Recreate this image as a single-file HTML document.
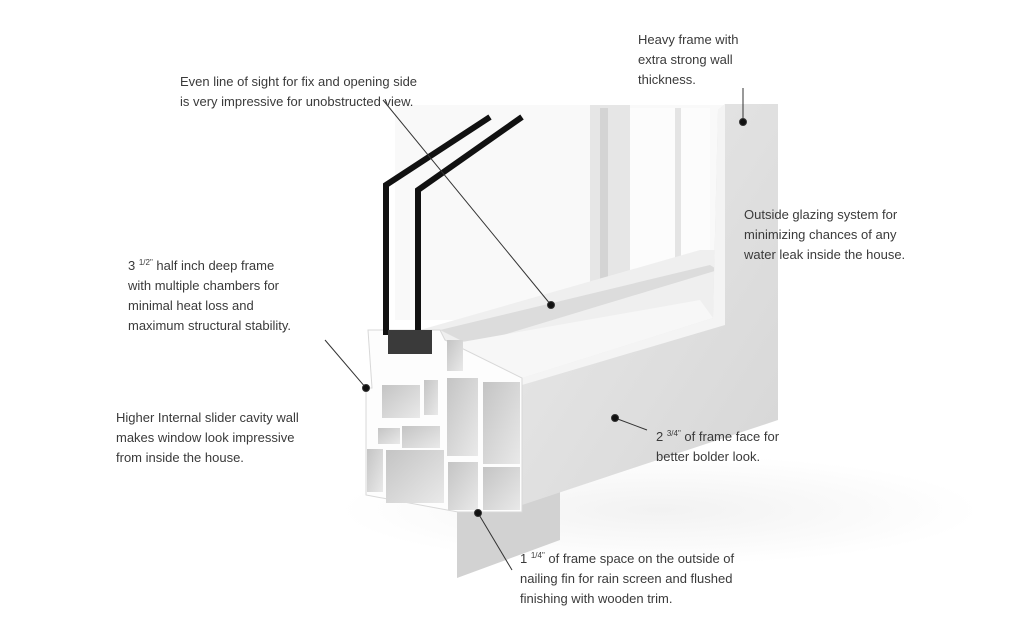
<!DOCTYPE html>
<html><head><meta charset="utf-8"><style>
html,body{margin:0;padding:0;background:#fff;}
body{width:1024px;height:640px;position:relative;overflow:hidden;font-family:"Liberation Sans",sans-serif;}
.t{position:absolute;font-size:13px;line-height:20px;color:#3a3a3a;white-space:nowrap;}
sup{font-size:8px;vertical-align:5px;}
</style></head><body>
<svg width="1024" height="640" style="position:absolute;left:0;top:0">
<defs>
<linearGradient id="face" x1="0" y1="0" x2="1" y2="1"><stop offset="0" stop-color="#eaeaea"/><stop offset="1" stop-color="#d6d6d6"/></linearGradient>
<linearGradient id="cav" x1="0" y1="0" x2="1" y2="1"><stop offset="0" stop-color="#c4c4c4"/><stop offset="1" stop-color="#e9e9e9"/></linearGradient>
<radialGradient id="sh" cx="0.5" cy="0.5" r="0.5"><stop offset="0" stop-color="#f2f2f2"/><stop offset="1" stop-color="#fff"/></radialGradient>
</defs>
<ellipse cx="660" cy="510" rx="320" ry="55" fill="url(#sh)"/>
<polygon points="457,508 560,485 560,540 457,578" fill="#d2d2d2"/>
<rect x="395" y="105" width="335" height="215" fill="#f9f9f9"/>
<rect x="590" y="105" width="40" height="190" fill="#e6e6e6"/>
<rect x="600" y="108" width="8" height="185" fill="#d4d4d4"/>
<rect x="630" y="108" width="80" height="210" fill="#fcfcfc"/>
<rect x="675" y="108" width="6" height="200" fill="#e4e4e4"/>
<polygon points="420,330 700,250 720,250 720,320 520,380 440,380" fill="#efefef"/>
<polygon points="440,330 710,265 718,270 470,345" fill="#dcdcdc"/>
<polygon points="725,104 778,104 778,420 522,505 522,378 713,318 718,110" fill="url(#face)"/>
<polygon points="713,318 718,110 725,104 725,325 522,385 522,378" fill="#f4f4f4"/>
<polygon points="445,345 700,300 713,318 522,378 470,372" fill="#f7f7f7"/>
<polygon points="368,330 440,330 445,340 522,378 522,512 458,512 366,495 366,388 372,388" fill="#fdfdfd" stroke="#d8d8d8" stroke-width="1"/>
<g fill="url(#cav)">
<rect x="367" y="449" width="16" height="43"/>
<rect x="386" y="450" width="58" height="53"/>
<rect x="448" y="462" width="30" height="48"/>
<rect x="483" y="467" width="37" height="43"/>
<rect x="447" y="378" width="31" height="78"/>
<rect x="483" y="382" width="37" height="82"/>
<rect x="447" y="340" width="16" height="31"/>
<rect x="382" y="385" width="38" height="33"/>
<rect x="378" y="428" width="22" height="16"/>
<rect x="402" y="426" width="38" height="22"/>
<rect x="424" y="380" width="14" height="35"/>
</g>
<polyline points="386,335 386,185 490,117" fill="none" stroke="#111" stroke-width="6"/>
<polyline points="418,340 418,190 522,117" fill="none" stroke="#111" stroke-width="6"/>
<rect x="388" y="330" width="44" height="24" fill="#3a3a3a"/>
<g stroke="#333" stroke-width="1" fill="#111">
<line x1="383" y1="100" x2="551" y2="305"/><circle cx="551" cy="305" r="3.5"/>
<line x1="743" y1="88" x2="743" y2="122"/><circle cx="743" cy="122" r="3.5"/>
<line x1="325" y1="340" x2="366" y2="388"/><circle cx="366" cy="388" r="3.5"/>
<line x1="615" y1="418" x2="647" y2="430"/><circle cx="615" cy="418" r="3.5"/>
<line x1="478" y1="513" x2="512" y2="570"/><circle cx="478" cy="513" r="3.5"/>
</g>
</svg>
<div class="t" style="left:180px;top:72px">Even line of sight for fix and opening side<br>is very impressive for unobstructed view.</div>
<div class="t" style="left:638px;top:30px">Heavy frame with<br>extra strong wall<br>thickness.</div>
<div class="t" style="left:744px;top:205px">Outside glazing system for<br>minimizing chances of any<br>water leak inside the house.</div>
<div class="t" style="left:128px;top:253px">3 <sup>1/2"</sup> half inch deep frame<br>with multiple chambers for<br>minimal heat loss and<br>maximum structural stability.</div>
<div class="t" style="left:116px;top:408px">Higher Internal slider cavity wall<br>makes window look impressive<br>from inside the house.</div>
<div class="t" style="left:656px;top:424px">2 <sup>3/4"</sup> of frame face for<br>better bolder look.</div>
<div class="t" style="left:520px;top:546px">1 <sup>1/4"</sup> of frame space on the outside of<br>nailing fin for rain screen and flushed<br>finishing with wooden trim.</div>
</body></html>
